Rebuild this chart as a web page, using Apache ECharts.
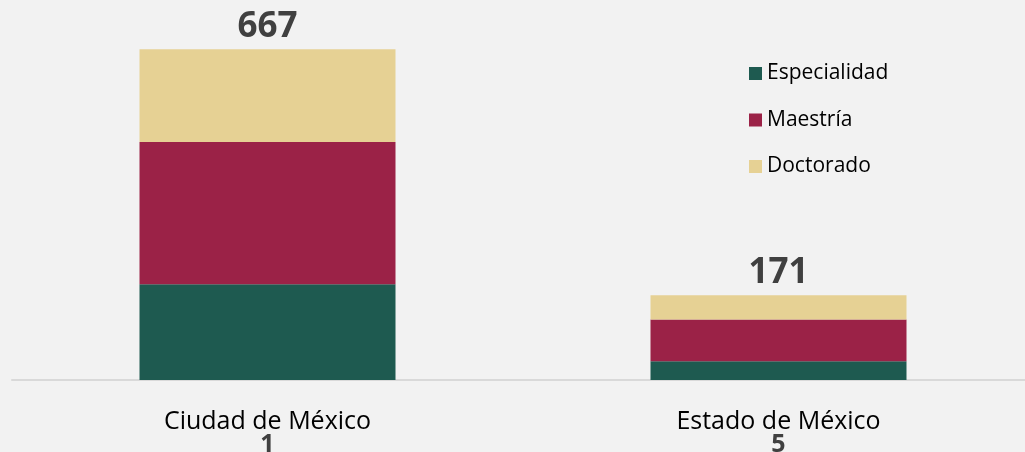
<!DOCTYPE html>
<html><head><meta charset="utf-8">
<script src="https://cdn.jsdelivr.net/npm/echarts@6/dist/echarts.min.js"></script>
<style>html,body{margin:0;padding:0;background:#f2f2f2}#c{width:1025px;height:452px}</style>
</head><body><div id="c"></div>
<script>
const categories = ["Ciudad de México", "Estado de México"];
const ranks = ["1", "5"];
const especialidad = [193, 38];
const maestria = [287, 84];
const doctorado = [187, 49];
const totals = [667, 171];

const chart = echarts.init(document.getElementById('c'));
const font = '"Open Sans", sans-serif';
chart.setOption({
  backgroundColor: '#f2f2f2',
  animation: false,
  textStyle: { fontFamily: font },
  grid: { left: 12, right: -9, top: 33, bottom: 72, outerBoundsMode: 'none', containLabel: false },
  legend: {
    orient: 'vertical', left: 744, top: 58, itemWidth: 13, itemHeight: 13, itemGap: 25.5,
    icon: 'rect',
    textStyle: { fontSize: 21, color: '#000', fontFamily: font },
    data: ['Especialidad', 'Maestría', 'Doctorado']
  },
  xAxis: {
    type: 'category', data: categories,
    axisLine: { lineStyle: { color: '#d9d9d9', width: 2 } },
    axisTick: { show: false },
    axisLabel: {
      margin: 30,
      formatter: (v, i) => '{a|' + v + '}\n{b|' + ranks[i] + '}',
      rich: {
        a: { fontSize: 25, color: '#000', lineHeight: 23, fontFamily: font },
        b: { fontSize: 25, color: '#404040', fontWeight: 'bold', lineHeight: 24, fontFamily: font }
      }
    }
  },
  yAxis: { type: 'value', min: 0, max: 700, show: false, splitLine: { show: false } },
  series: [
    { name: 'Especialidad', type: 'bar', stack: 't', barWidth: 256, data: especialidad, itemStyle: { color: '#1e5a50' } },
    { name: 'Maestría', type: 'bar', stack: 't', data: maestria, itemStyle: { color: '#9b2247' } },
    { name: 'Doctorado', type: 'bar', stack: 't', data: doctorado, itemStyle: { color: '#e6d194' },
      label: { show: true, position: 'top', distance: 5, formatter: p => totals[p.dataIndex],
        fontSize: 35, fontWeight: 'bold', color: '#404040', fontFamily: font } }
  ]
});
</script></body></html>
